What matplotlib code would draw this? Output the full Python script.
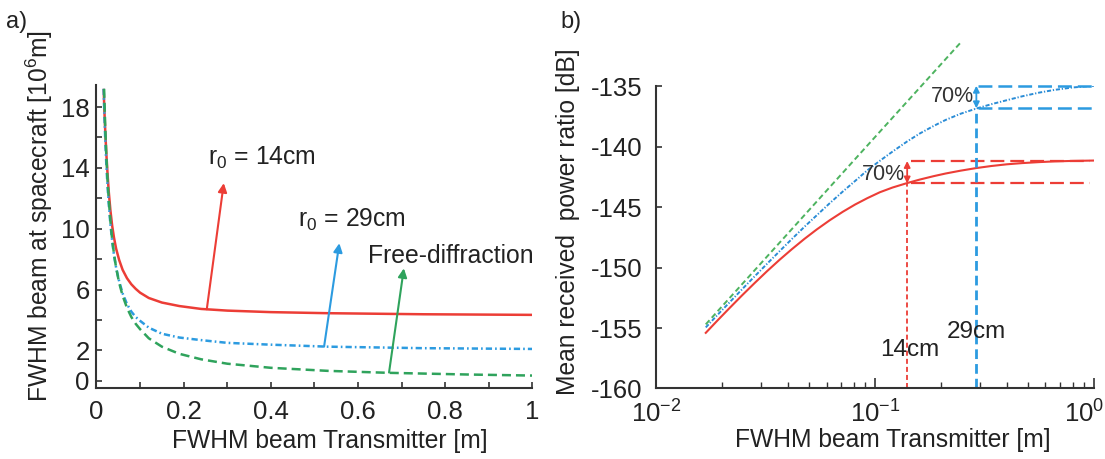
import matplotlib
matplotlib.use("Agg")
import matplotlib.pyplot as plt
from matplotlib.ticker import FixedLocator, NullFormatter, FuncFormatter

plt.rcParams['font.family'] = ['Liberation Sans', 'DejaVu Sans']
plt.rcParams['mathtext.fontset'] = 'custom'
plt.rcParams['mathtext.rm'] = 'Liberation Sans'
plt.rcParams['mathtext.it'] = 'Liberation Sans'
plt.rcParams['axes.unicode_minus'] = False
plt.rcParams['lines.scale_dashes'] = False

# ---------------- data: panel a ----------------
a_x = [0.0165, 0.018, 0.02, 0.0225, 0.025, 0.028, 0.032, 0.036, 0.04, 0.045, 0.052,
       0.06, 0.07, 0.08, 0.09, 0.1, 0.12, 0.15, 0.19, 0.24, 0.3, 0.4, 0.53, 0.75, 1.0]
a_red = [19.2, 17.9, 16.5, 15.0, 13.8, 12.5, 11.2, 10.2, 9.45, 8.7, 7.95,
         7.3, 6.75, 6.35, 6.05, 5.8, 5.45, 5.15, 4.92, 4.73, 4.62, 4.52, 4.45, 4.38, 4.34]
a_blue = [19.2, 17.7, 16.0, 14.3, 13.0, 11.7, 10.3, 9.2, 8.3, 7.45, 6.55,
          5.75, 5.05, 4.55, 4.2, 3.95, 3.5, 3.1, 2.85, 2.68, 2.5, 2.38, 2.25, 2.15, 2.1]
a_green_x = [0.0175, 0.02, 0.0225, 0.025, 0.028, 0.032, 0.036, 0.04, 0.045, 0.052, 0.06,
             0.07, 0.08, 0.09, 0.1, 0.12, 0.15, 0.19, 0.24, 0.3, 0.4, 0.53, 0.67, 0.85, 1.0]
a_green = [19.2, 16.8, 14.9, 13.4, 12.0, 10.5, 9.3, 8.4, 7.45, 6.45, 5.6,
           4.8, 4.2, 3.75, 3.4, 2.8, 2.25, 1.78, 1.42, 1.13, 0.86, 0.66, 0.53, 0.42, 0.35]
a_yticks = [0, 2, 4, 6, 8, 10, 12, 14, 16, 18]
a_yticklabels = ['0', '2', '', '6', '', '10', '', '14', '', '18']
a_xticks = [0, 0.2, 0.4, 0.6, 0.8, 1.0]
a_xticklabels = ['0', '0.2', '0.4', '0.6', '0.8', '1']

# ---------------- data: panel b ----------------
b_x = [0.0168, 0.019, 0.0215, 0.0245, 0.028, 0.032, 0.0365, 0.0415, 0.0475, 0.054,
       0.062, 0.071, 0.081, 0.092, 0.105, 0.12, 0.14, 0.16, 0.185, 0.21, 0.245,
       0.29, 0.34, 0.4, 0.47, 0.56, 0.66, 0.8, 1.0]
b_red = [-155.4, -154.38, -153.38, -152.34, -151.31, -150.31, -149.37, -148.5, -147.63, -146.86,
         -146.09, -145.4, -144.79, -144.27, -143.78, -143.39, -143.02, -142.73, -142.45, -142.23,
         -142.0, -141.78, -141.61, -141.47, -141.37, -141.29, -141.23, -141.19, -141.16]
b_blue = [-154.95, -153.92, -152.91, -151.84, -150.76, -149.7, -148.66, -147.66, -146.63, -145.69,
          -144.68, -143.73, -142.84, -141.97, -141.18, -140.42, -139.58, -138.92, -138.3, -137.8,
          -137.3, -136.86, -136.5, -136.17, -135.85, -135.55, -135.32, -135.12, -134.98]
b_green_x = [0.0168, 0.1, 0.246]
b_green = [-154.7, -139.2, -131.4]
b_yticks = [-160, -155, -150, -145, -140, -135]

r14_x, r14_lo, r14_hi = 0.14, -143.05, -141.2
r29_x, r29_lo, r29_hi = 0.29, -136.84, -134.98

RED = '#EC3D36'
BLUE = '#2C9BE0'
GREEN = '#2FA35C'
AX = '#333333'
TXT = '#222222'

fig = plt.figure(figsize=(11.05, 4.59), dpi=100)
axA = fig.add_axes([0.0873, 0.1536, 0.3946, 0.6612])
axB = fig.add_axes([0.5941, 0.1536, 0.3959, 0.6590])

for ax in (axA, axB):
    for s in ('top', 'right'):
        ax.spines[s].set_visible(False)
    for s in ('left', 'bottom'):
        ax.spines[s].set_color(AX)
        ax.spines[s].set_linewidth(1.5)

# ---------------- panel a ----------------
axA.plot(a_x, a_red, color=RED, lw=1.8, solid_capstyle='butt')
axA.plot(a_x, a_blue, color=BLUE, lw=1.8, dashes=(4.5, 2.2, 1.2, 2.2))
axA.plot(a_green_x, a_green, color=GREEN, lw=1.8, dashes=(6.5, 3.6))
axA.set_xlim(0, 1)
axA.set_ylim(-0.5, 19.45)
axA.set_xticks(a_xticks)
axA.set_xticklabels(a_xticklabels)
axA.xaxis.set_minor_locator(FixedLocator([0.1, 0.3, 0.5, 0.7, 0.9]))
axA.set_yticks(a_yticks)
axA.set_yticklabels(a_yticklabels)
axA.tick_params(which='both', direction='in', length=4.5, width=1.2, color=AX,
                labelsize=18.5, labelcolor=TXT)
axA.tick_params(axis='x', pad=8)
axA.tick_params(axis='y', pad=5)
axA.set_xlabel('FWHM beam Transmitter [m]', fontsize=17.7, color=TXT)
axA.xaxis.set_label_coords(0.536, -0.132)
axA.set_ylabel(r'FWHM beam at spacecraft [10$^6$m]', fontsize=17.7, color=TXT)
axA.yaxis.set_label_coords(-0.095, 0.57)

arrow_kw = dict(arrowstyle='-|>', mutation_scale=13, lw=1.5, shrinkA=0, shrinkB=0)
axA.annotate('', xy=(0.292, 13.0), xytext=(0.253, 4.71),
             arrowprops=dict(color=RED, **arrow_kw))
axA.annotate('', xy=(0.557, 9.05), xytext=(0.522, 2.25),
             arrowprops=dict(color=BLUE, **arrow_kw))
axA.annotate('', xy=(0.705, 7.4), xytext=(0.671, 0.55),
             arrowprops=dict(color=GREEN, **arrow_kw))
axA.text(0.256, 14.2, r'r$_0$ = 14cm', fontsize=17.8, color=TXT, va='baseline')
axA.text(0.462, 10.1, r'r$_0$ = 29cm', fontsize=17.8, color=TXT, va='baseline')
axA.text(0.623, 7.76, 'Free-diffraction', fontsize=17.8, color=TXT, va='baseline')

# ---------------- panel b ----------------
axB.set_xscale('log')
axB.plot(b_x, b_red, color=RED, lw=1.5)
axB.plot(b_x, b_blue, color='#2A8CD6', lw=1.4, dashes=(3.0, 1.3, 0.9, 1.3))
axB.plot(b_green_x, b_green, color='#4DB35F', lw=1.4, dashes=(4.0, 2.4), clip_on=False)

# reference lines
axB.plot([r14_x, r14_x], [-160, r14_lo], color=RED, lw=1.3, dashes=(3.6, 2.2))
axB.plot([0.146, 0.955], [r14_hi, r14_hi], color=RED, lw=1.6, dashes=(10, 4.3))
axB.plot([0.146, 0.955], [r14_lo, r14_lo], color=RED, lw=1.6, dashes=(10, 4.3))
axB.plot([r29_x, r29_x], [-160, r29_lo], color=BLUE, lw=2.0, dashes=(7, 3.6))
axB.plot([0.295, 1.0], [r29_hi, r29_hi], color=BLUE, lw=1.8, dashes=(10, 4.3), clip_on=False)
axB.plot([0.295, 1.0], [r29_lo, r29_lo], color=BLUE, lw=1.8, dashes=(10, 4.3), clip_on=False)

dbl = dict(arrowstyle='<|-|>', mutation_scale=9, lw=1.3, shrinkA=0, shrinkB=0)
axB.annotate('', xy=(r14_x, r14_hi), xytext=(r14_x, r14_lo),
             arrowprops=dict(color=RED, **dbl), annotation_clip=False)
axB.annotate('', xy=(r29_x, r29_hi), xytext=(r29_x, r29_lo),
             arrowprops=dict(color=BLUE, **dbl), annotation_clip=False)

axB.text(0.1365, -142.3, '70%', fontsize=15.5, color='#333333', ha='right', va='center')
axB.text(0.283, -135.85, '70%', fontsize=15.5, color='#333333', ha='right', va='center')
axB.text(0.105, -156.8, '14cm', fontsize=17.5, color=TXT, ha='left', va='center')
axB.text(0.212, -155.3, '29cm', fontsize=17.5, color=TXT, ha='left', va='center')

axB.set_xlim(0.01, 1)
axB.set_ylim(-160, -135)
axB.set_yticks(b_yticks)
axB.set_yticklabels([str(v) for v in b_yticks])
axB.xaxis.set_major_locator(FixedLocator([0.01, 0.1, 1.0]))
axB.xaxis.set_major_formatter(FuncFormatter(
    lambda v, p: {0.01: r'$10^{-2}$', 0.1: r'$10^{-1}$'}.get(round(v, 4), '')))
axB.xaxis.set_minor_formatter(NullFormatter())
axB.tick_params(which='major', direction='in', length=7.5, width=1.2, color=AX,
                labelsize=18.5, labelcolor=TXT)
axB.tick_params(which='minor', direction='in', length=4.5, width=1.0, color=AX)
axB.tick_params(axis='y', which='major', length=4.5, pad=10)
axB.tick_params(axis='x', which='major', pad=8.5)
# last decade label sits at the right edge of the figure, as in the reference
axB.annotate(r'$10^{0}$', xy=(1.0, 0), xycoords=('data', 'axes fraction'),
             xytext=(7.3, -8.5), textcoords='offset points', ha='right', va='top',
             fontsize=18.5, color=TXT, annotation_clip=False)
axB.set_xlabel('FWHM beam Transmitter [m]', fontsize=17.7, color=TXT)
axB.xaxis.set_label_coords(0.54, -0.132)
axB.set_ylabel('Mean received  power ratio [dB]', fontsize=17.7, color=TXT)
axB.yaxis.set_label_coords(-0.175, 0.55)

fig.text(0.005, 0.975, 'a)', fontsize=17, color=TXT, va='top', ha='left')
fig.text(0.507, 0.975, 'b)', fontsize=17, color=TXT, va='top', ha='left')

fig.savefig('out.png', dpi=100)
